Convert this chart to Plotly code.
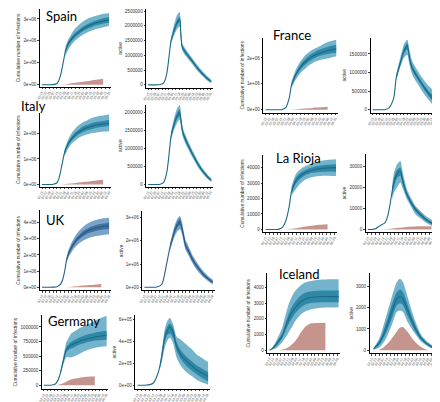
import plotly.graph_objects as go

W, H = 440, 402

# x tick labels (dates, rotated)
dates = ["02-15", "02-22", "02-29", "03-07", "03-14", "03-21", "03-28", "04-04", "04-11", "04-18",
         "04-25", "05-02", "05-09", "05-16", "05-23", "05-30", "06-06", "06-13", "06-20"]

# ---------------- Spain (millions) ----------------
spain_c_x = [0, 1, 2, 3, 4, 4.5, 5, 5.5, 6, 6.3, 7, 8, 9, 10, 11, 12, 13, 14, 15, 16, 17, 18]
spain_c_mid = [0, 0, 0, 0.01, 0.06, 0.2, 0.45, 0.85, 1.3, 1.55, 1.85, 2.1, 2.28, 2.42, 2.54, 2.64, 2.72, 2.79, 2.84, 2.88, 2.92, 2.95]
spain_c_bx = [6.3, 7, 8, 9, 10, 11, 12, 13, 14, 15, 16, 17, 18]
spain_c_olo = [1.3, 1.6, 1.85, 2.03, 2.17, 2.28, 2.37, 2.45, 2.51, 2.56, 2.60, 2.64, 2.68]
spain_c_ilo = [1.45, 1.75, 2.0, 2.18, 2.32, 2.44, 2.53, 2.61, 2.68, 2.73, 2.77, 2.80, 2.83]
spain_c_ihi = [1.63, 1.95, 2.2, 2.38, 2.52, 2.64, 2.74, 2.83, 2.90, 2.96, 3.01, 3.05, 3.09]
spain_c_ohi = [1.75, 2.05, 2.35, 2.58, 2.75, 2.88, 2.98, 3.06, 3.12, 3.17, 3.21, 3.24, 3.27]
spain_c_rx = [5, 7, 9, 11, 13, 15, 16.4]
spain_c_ry = [0, 0.04, 0.09, 0.14, 0.19, 0.24, 0.27]

spain_a_x = [0, 2, 3.5, 4.5, 5.4, 6.2, 6.6, 7.4, 8.4, 9.1, 9.4, 9.8, 10.5, 11.3, 12.75, 14.2, 15.7, 17.1, 18.2]
spain_a_mid = [0, 0, 0.01, 0.07, 0.4, 1.14, 1.5, 1.81, 2.12, 2.22, 1.8, 1.3, 1.15, 1.02, 0.8, 0.57, 0.37, 0.21, 0.11]
spain_a_bx = [6.6, 7.4, 8.4, 9.1, 9.4, 9.8, 10.5, 11.3, 12.75, 14.2, 15.7, 17.1, 18.2]
spain_a_olo = [1.4, 1.65, 1.9, 1.98, 1.55, 1.18, 1.03, 0.91, 0.7, 0.48, 0.29, 0.14, 0.06]
spain_a_ilo = [1.45, 1.75, 2.03, 2.12, 1.7, 1.25, 1.1, 0.98, 0.76, 0.53, 0.33, 0.17, 0.08]
spain_a_ihi = [1.55, 1.88, 2.22, 2.31, 1.88, 1.35, 1.2, 1.06, 0.84, 0.61, 0.41, 0.25, 0.14]
spain_a_ohi = [1.6, 2.0, 2.38, 2.47, 2.1, 1.42, 1.27, 1.13, 0.9, 0.67, 0.46, 0.29, 0.17]

# ---------------- Italy (millions) ----------------
italy_c_x = [0, 1, 2, 3, 4, 4.5, 5, 5.5, 6, 7, 8, 9, 10, 11, 12, 13, 14, 15, 16, 17, 18]
italy_c_mid = [0, 0, 0, 0.01, 0.07, 0.22, 0.52, 0.88, 1.22, 1.58, 1.8, 1.95, 2.06, 2.15, 2.21, 2.26, 2.3, 2.33, 2.35, 2.37, 2.39]
italy_c_bx = [6, 7, 8, 9, 10, 11, 12, 13, 14, 15, 16, 17, 18]
italy_c_olo = [1.1, 1.4, 1.6, 1.73, 1.83, 1.9, 1.95, 1.99, 2.02, 2.04, 2.06, 2.07, 2.08]
italy_c_ilo = [1.18, 1.51, 1.72, 1.86, 1.97, 2.05, 2.11, 2.15, 2.19, 2.22, 2.24, 2.26, 2.28]
italy_c_ihi = [1.27, 1.65, 1.88, 2.04, 2.16, 2.26, 2.32, 2.37, 2.42, 2.45, 2.47, 2.5, 2.52]
italy_c_ohi = [1.36, 1.76, 2.02, 2.2, 2.33, 2.43, 2.5, 2.57, 2.62, 2.66, 2.68, 2.71, 2.73]
italy_c_rx = [5, 7, 9, 11, 13, 15, 16.4]
italy_c_ry = [0, 0.03, 0.06, 0.1, 0.13, 0.17, 0.19]

italy_a_x = [0, 2, 3.5, 4.5, 5.4, 6.2, 6.6, 7.4, 8.4, 9.1, 9.5, 10, 10.8, 11.5, 12.8, 14.2, 15.7, 17.1, 18.2]
italy_a_mid = [0, 0, 0.01, 0.06, 0.35, 1.0, 1.35, 1.65, 1.92, 2.0, 1.75, 1.45, 1.25, 1.1, 0.85, 0.6, 0.38, 0.22, 0.12]
italy_a_bx = [6.6, 7.4, 8.4, 9.1, 9.5, 10, 10.8, 11.5, 12.8, 14.2, 15.7, 17.1, 18.2]
italy_a_olo = [1.25, 1.5, 1.72, 1.8, 1.58, 1.32, 1.13, 0.99, 0.75, 0.51, 0.31, 0.16, 0.07]
italy_a_ilo = [1.3, 1.58, 1.83, 1.9, 1.67, 1.39, 1.19, 1.05, 0.81, 0.56, 0.35, 0.19, 0.1]
italy_a_ihi = [1.4, 1.72, 2.0, 2.1, 1.83, 1.51, 1.31, 1.15, 0.89, 0.64, 0.41, 0.25, 0.14]
italy_a_ohi = [1.45, 1.82, 2.12, 2.22, 1.92, 1.58, 1.37, 1.21, 0.95, 0.69, 0.45, 0.28, 0.17]

# ---------------- UK (millions) ----------------
uk_c_x = [0, 1, 2, 3, 4, 4.5, 5, 5.5, 6, 6.55, 7, 8, 9, 10, 11, 12, 13, 14, 15, 16, 17, 18]
uk_c_mid = [0, 0, 0, 0.01, 0.03, 0.1, 0.2, 0.45, 0.9, 1.64, 2.0, 2.5, 2.85, 3.1, 3.3, 3.45, 3.55, 3.63, 3.69, 3.74, 3.77, 3.8]
uk_c_bx = [6.55, 7, 8, 9, 10, 11, 12, 13, 14, 15, 16, 17, 18]
uk_c_olo = [1.5, 1.8, 2.2, 2.5, 2.72, 2.88, 3.0, 3.08, 3.14, 3.18, 3.22, 3.25, 3.27]
uk_c_ilo = [1.58, 1.92, 2.38, 2.72, 2.96, 3.15, 3.29, 3.38, 3.45, 3.51, 3.55, 3.58, 3.6]
uk_c_ihi = [1.72, 2.1, 2.62, 2.98, 3.25, 3.45, 3.6, 3.72, 3.8, 3.87, 3.92, 3.96, 4.0]
uk_c_ohi = [1.8, 2.25, 2.8, 3.2, 3.5, 3.72, 3.9, 4.03, 4.12, 4.19, 4.24, 4.28, 4.3]
uk_c_rx = [6, 8, 10, 12, 14, 15.9]
uk_c_ry = [0, 0.04, 0.08, 0.12, 0.16, 0.2]

uk_a_x = [0, 2, 3.3, 4.6, 5.9, 6.8, 7.5, 8.1, 8.8, 9.4, 9.85, 10.6, 10.9, 11.6, 12.9, 14.2, 15.5, 16.8, 18.1]
uk_a_mid = [0, 0, 0.01, 0.12, 1.01, 1.74, 2.15, 2.46, 2.7, 2.83, 2.61, 2.03, 1.81, 1.59, 1.16, 0.84, 0.58, 0.38, 0.22]
uk_a_bx = [6.8, 7.5, 8.1, 8.8, 9.4, 9.85, 10.6, 10.9, 11.6, 12.9, 14.2, 15.5, 16.8, 18.1]
uk_a_olo = [1.6, 1.95, 2.22, 2.42, 2.5, 2.35, 1.8, 1.6, 1.4, 0.99, 0.68, 0.45, 0.27, 0.12]
uk_a_ilo = [1.67, 2.05, 2.35, 2.58, 2.68, 2.5, 1.93, 1.72, 1.5, 1.08, 0.77, 0.52, 0.33, 0.17]
uk_a_ihi = [1.8, 2.25, 2.58, 2.83, 2.97, 2.73, 2.13, 1.9, 1.68, 1.24, 0.91, 0.64, 0.43, 0.27]
uk_a_ohi = [1.88, 2.35, 2.7, 2.97, 3.07, 2.87, 2.27, 2.03, 1.8, 1.34, 1.0, 0.72, 0.5, 0.33]

# ---------------- Germany (millions) ----------------
ger_c_x = [0, 1, 2, 3, 3.6, 4.5, 5.5, 6.5, 7.2, 7.9, 9, 10, 11, 12, 12.8, 14, 15, 16, 17, 18.1]
ger_c_mid = [0, 0, 0, 0.01, 0.04, 0.15, 0.39, 0.61, 0.66, 0.69, 0.72, 0.745, 0.77, 0.785, 0.80, 0.815, 0.83, 0.84, 0.85, 0.86]
ger_c_bx = [4.8, 5.5, 6.5, 7.2, 7.9, 9, 10, 11, 12, 12.8, 14, 15, 16, 17, 18.1]
ger_c_olo = [0.18, 0.33, 0.48, 0.48, 0.475, 0.5, 0.53, 0.56, 0.59, 0.61, 0.63, 0.645, 0.655, 0.665, 0.67]
ger_c_ilo = [0.2, 0.37, 0.57, 0.61, 0.63, 0.66, 0.69, 0.71, 0.73, 0.745, 0.755, 0.765, 0.77, 0.775, 0.78]
ger_c_ihi = [0.22, 0.41, 0.65, 0.71, 0.745, 0.78, 0.81, 0.835, 0.86, 0.875, 0.89, 0.905, 0.915, 0.925, 0.935]
ger_c_ohi = [0.25, 0.46, 0.74, 0.82, 0.885, 0.93, 0.97, 1.0, 1.03, 1.05, 1.08, 1.11, 1.14, 1.165, 1.19]
ger_c_rx = [3.5, 5, 6.5, 8, 9.5, 11, 12.5, 14, 14.7]
ger_c_ry = [0, 0.02, 0.06, 0.1, 0.12, 0.135, 0.145, 0.15, 0.15]

ger_a_x = [0, 2, 3.2, 4.1, 5.4, 6.2, 7.1, 7.8, 8.4, 9.2, 10.1, 11.3, 12.6, 13.9, 15.2, 16.7, 18.2]
ger_a_mid = [0, 0, 0.005, 0.02, 0.12, 0.25, 0.44, 0.5, 0.53, 0.48, 0.35, 0.27, 0.22, 0.18, 0.14, 0.11, 0.08]
ger_a_bx = [5.8, 6.2, 7.1, 7.8, 8.4, 9.2, 10.1, 11.3, 12.6, 13.9, 15.2, 16.7, 18.2]
ger_a_olo = [0.15, 0.2, 0.35, 0.41, 0.43, 0.38, 0.25, 0.17, 0.12, 0.085, 0.05, 0.025, 0.005]
ger_a_ilo = [0.17, 0.23, 0.4, 0.46, 0.47, 0.43, 0.31, 0.23, 0.175, 0.135, 0.1, 0.065, 0.035]
ger_a_ihi = [0.19, 0.27, 0.48, 0.54, 0.56, 0.52, 0.39, 0.31, 0.26, 0.22, 0.18, 0.15, 0.12]
ger_a_ohi = [0.2, 0.3, 0.52, 0.59, 0.61, 0.55, 0.44, 0.41, 0.37, 0.33, 0.28, 0.245, 0.21]

# ---------------- France (millions) ----------------
fra_c_x = [0, 1, 2, 3, 4, 4.3, 5.2, 6.1, 6.7, 7.8, 9, 10.4, 11.7, 13, 14.3, 15.6, 17, 18.2]
fra_c_mid = [0, 0, 0, 0, 0, 0.01, 0.08, 0.46, 0.97, 1.36, 1.65, 1.87, 2.02, 2.13, 2.2, 2.26, 2.31, 2.35]
fra_c_bx = [6.7, 7.8, 9, 10.4, 11.7, 13, 14.3, 15.6, 17, 18.2]
fra_c_olo = [0.85, 1.17, 1.42, 1.61, 1.76, 1.87, 1.93, 1.97, 2.02, 2.06]
fra_c_ilo = [0.92, 1.28, 1.55, 1.76, 1.91, 2.02, 2.09, 2.14, 2.18, 2.19]
fra_c_ihi = [1.02, 1.44, 1.75, 1.98, 2.14, 2.26, 2.34, 2.41, 2.47, 2.51]
fra_c_ohi = [1.1, 1.55, 1.87, 2.13, 2.28, 2.38, 2.48, 2.58, 2.65, 2.7]
fra_c_rx = [6, 8, 10, 12, 14, 16]
fra_c_ry = [0, 0.02, 0.045, 0.07, 0.095, 0.115]

fra_a_x = [0, 2, 3.7, 4.7, 6.1, 6.8, 7.6, 8.3, 9.0, 10.0, 10.65, 11.4, 12.8, 14.3, 16.2, 18.15]
fra_a_mid = [0, 0, 0.005, 0.05, 0.32, 0.86, 1.13, 1.36, 1.57, 1.71, 1.39, 1.13, 0.9, 0.68, 0.43, 0.23]
fra_a_bx = [6.8, 7.6, 8.3, 9.0, 10.0, 10.65, 11.4, 12.8, 14.3, 16.2, 18.15]
fra_a_olo = [0.78, 1.04, 1.22, 1.39, 1.48, 1.2, 0.95, 0.72, 0.5, 0.26, 0.05]
fra_a_ilo = [0.82, 1.08, 1.3, 1.5, 1.62, 1.3, 1.06, 0.84, 0.62, 0.36, 0.14]
fra_a_ihi = [0.9, 1.18, 1.42, 1.64, 1.8, 1.47, 1.2, 0.96, 0.74, 0.5, 0.32]
fra_a_ohi = [0.95, 1.26, 1.52, 1.75, 1.88, 1.6, 1.32, 1.08, 0.86, 0.64, 0.46]

# ---------------- La Rioja (thousands) ----------------
rio_c_x = [0, 1, 2, 3, 3.5, 4.4, 5.3, 6.2, 6.8, 7.9, 9, 10.5, 12, 14, 16, 18.4]
rio_c_mid = [0, 0, 0, 0, 0.2, 1.3, 5.6, 15.3, 25, 31.4, 34.5, 36.8, 38.2, 39.3, 39.8, 40]
rio_c_bx = [6.8, 7.9, 9, 10.5, 12, 14, 16, 18.4]
rio_c_olo = [22, 26, 29.5, 32.5, 33.8, 34.6, 34.8, 34.6]
rio_c_ilo = [23.5, 29.5, 32.7, 35.2, 36.5, 37.2, 37.4, 37.4]
rio_c_ihi = [26.5, 33.5, 36.5, 38.6, 40, 41.2, 41.8, 42.2]
rio_c_ohi = [28, 35.7, 38.8, 41, 42.7, 44.3, 45, 45.4]
rio_c_rx = [5.5, 7, 9, 11, 13, 15, 16.2]
rio_c_ry = [0, 0.4, 1.2, 2.0, 2.7, 3.2, 3.4]

rio_a_x = [0, 1, 2, 2.75, 3.6, 4.5, 5.2, 5.8, 6.7, 7.6, 8.5, 9.1, 10.2, 11.3, 12.4, 13.8, 15.1, 16.6, 18.2]
rio_a_mid = [0, 0, 0.3, 1.3, 2.2, 3.3, 6.5, 12, 21.6, 26.3, 27.9, 23.2, 16.8, 12.8, 9.7, 7.0, 4.9, 3.1, 1.7]
rio_a_bx = [6.3, 6.7, 7.6, 8.5, 9.1, 10.2, 11.3, 12.4, 13.8, 15.1, 16.6, 18.2]
rio_a_olo = [14.5, 17, 20, 22.4, 19.5, 14.4, 10.8, 7.3, 5.2, 3.3, 1.8, 0.6]
rio_a_ilo = [16.5, 19.5, 24.5, 25.6, 21.5, 15.8, 11.9, 8.7, 6.2, 4.2, 2.5, 1.2]
rio_a_ihi = [18.5, 23.5, 28.5, 29.5, 25, 17.8, 13.8, 10.6, 7.8, 5.6, 3.7, 2.3]
rio_a_ohi = [20, 26, 31, 32.7, 27.5, 19.2, 15, 11.3, 8.7, 6.5, 4.6, 2.9]
rio_a_rx = [4, 6, 8, 10, 12, 14, 16, 16.6]
rio_a_ry = [0, 0.3, 0.8, 1.2, 1.4, 1.5, 1.5, 1.5]

# ---------------- Iceland (thousands) ----------------
ice_c_x = [0, 0.3, 1.6, 2.5, 3.4, 4.2, 5.1, 6, 6.9, 7.8, 8.65, 10, 11.3, 13, 15, 17, 18.3]
ice_c_mid = [0, 0.02, 0.3, 0.6, 0.93, 1.45, 1.99, 2.42, 2.73, 2.98, 3.15, 3.3, 3.37, 3.4, 3.41, 3.41, 3.41]
ice_c_bx = [0.5, 1.6, 2.5, 3.4, 4.2, 5.1, 6, 6.9, 7.8, 8.65, 10, 11.3, 13, 15, 17, 18.3]
ice_c_olo = [0.02, 0.1, 0.28, 0.51, 0.8, 1.14, 1.5, 1.88, 2.15, 2.35, 2.52, 2.62, 2.68, 2.71, 2.72, 2.73]
ice_c_ilo = [0.03, 0.22, 0.48, 0.78, 1.22, 1.68, 2.05, 2.37, 2.6, 2.78, 2.95, 3.02, 3.04, 3.05, 3.05, 3.05]
ice_c_ihi = [0.05, 0.4, 0.75, 1.1, 1.7, 2.33, 2.8, 3.12, 3.37, 3.55, 3.7, 3.75, 3.78, 3.79, 3.79, 3.79]
ice_c_ohi = [0.08, 0.51, 0.95, 1.46, 2.2, 2.94, 3.45, 3.79, 4.02, 4.2, 4.35, 4.42, 4.48, 4.5, 4.51, 4.51]
ice_c_rx = [2.5, 4, 5.1, 6, 6.9, 7.6, 8.2, 9, 9.5, 10.2, 10.85, 12.5, 14.8]
ice_c_ry = [0, 0.07, 0.2, 0.38, 0.6, 0.85, 1.1, 1.35, 1.5, 1.62, 1.7, 1.73, 1.75]

ice_a_x = [0.5, 2.15, 3.8, 5.5, 6.7, 7.6, 8.4, 9.65, 11.3, 13.4, 15.9, 18.4]
ice_a_mid = [0.06, 0.38, 1.0, 1.86, 2.41, 2.52, 2.41, 1.86, 1.16, 0.53, 0.17, 0.05]
ice_a_bx = [0.5, 2.15, 3.8, 5.5, 6.7, 7.6, 8.4, 9.65, 11.3, 13.4, 15.9, 18.4]
ice_a_olo = [0.02, 0.14, 0.54, 1.24, 1.79, 1.86, 1.79, 1.31, 0.85, 0.38, 0.1, 0.02]
ice_a_ilo = [0.04, 0.28, 0.8, 1.55, 2.1, 2.2, 2.1, 1.6, 1.0, 0.46, 0.13, 0.03]
ice_a_ihi = [0.08, 0.48, 1.25, 2.2, 2.72, 2.85, 2.72, 2.15, 1.35, 0.6, 0.22, 0.07]
ice_a_ohi = [0.1, 0.61, 1.55, 2.57, 3.19, 3.35, 3.19, 2.49, 1.55, 0.69, 0.27, 0.09]
ice_a_rx = [1.7, 2.9, 4.6, 6.3, 7.5, 8.4, 9.65, 11.3, 13, 14.6, 15.3]
ice_a_ry = [0, 0.1, 0.37, 0.77, 1.05, 1.08, 0.85, 0.45, 0.17, 0.03, 0]

# ---------------- styling ----------------
TEAL = dict(outer="rgba(108,176,201,0.95)", inner="rgba(40,132,162,0.9)", line="#1c6a86")
BLUE = dict(outer="rgba(114,158,198,0.95)", inner="rgba(58,108,154,0.9)", line="#2a5c88")
RED = "rgba(183,122,112,0.8)"

# panels: (left, right, top, bottom) px boxes, y range, tick values, tick texts, y title
panels = [
    ("spain_c", (29, 101, 1, 79), (-0.091, 3.45), [0, 1, 2, 3], ["0e+00", "1e+06", "2e+06", "3e+06"], "Cumulative number of infections", TEAL),
    ("spain_a", (136, 203, 1, 80), (-0.1, 2.57), [0, 0.5, 1, 1.5, 2, 2.5], ["0", "500000", "1000000", "1500000", "2000000", "2500000"], "active", TEAL),
    ("italy_c", (29, 101, 105, 179), (-0.078, 2.8), [0, 1, 2], ["0e+00", "1e+06", "2e+06"], "Cumulative number of infections", TEAL),
    ("italy_a", (136, 203, 97, 179), (-0.056, 2.22), [0, 0.5, 1, 1.5, 2], ["0", "500000", "1000000", "1500000", "2000000"], "active", TEAL),
    ("uk_c", (29, 101, 203, 283), (-0.185, 4.74), [0, 1, 2, 3, 4], ["0e+00", "1e+06", "2e+06", "3e+06", "4e+06"], "Cumulative number of infections", BLUE),
    ("uk_a", (132, 205, 204, 283), (-0.13, 3.26), [0, 1, 2, 3], ["0e+00", "1e+06", "2e+06", "3e+06"], "active", BLUE),
    ("ger_c", (31, 98, 308, 382), (-0.066, 1.2), [0, 0.25, 0.5, 0.75, 1.0], ["0", "250000", "500000", "750000", "1000000"], "Cumulative number of infections", TEAL),
    ("ger_a", (125, 200, 308, 382), (-0.035, 0.635), [0, 0.2, 0.4, 0.6], ["0e+00", "2e+05", "4e+05", "6e+05"], "active", TEAL),
    ("fra_c", (254, 329, 30, 105), (-0.115, 2.77), [0, 1, 2], ["0e+00", "1e+06", "2e+06"], "Cumulative number of infections", TEAL),
    ("fra_a", (362, 429, 30, 105), (-0.08, 1.93), [0, 0.5, 1, 1.5], ["0", "500000", "1000000", "1500000"], "active", TEAL),
    ("rio_c", (254, 328, 147, 225), (-1.94, 48.4), [0, 10, 20, 30, 40], ["0", "10000", "20000", "30000", "40000"], "Cumulative number of infections", TEAL),
    ("rio_a", (357, 431, 146, 225), (-1.43, 36.2), [0, 10, 20, 30], ["0", "10000", "20000", "30000"], "active", TEAL),
    ("ice_c", (258, 331, 266, 346), (-0.19, 4.89), [0, 1, 2, 3, 4], ["0", "1000", "2000", "3000", "4000"], "Cumulative number of infections", TEAL),
    ("ice_a", (361, 433, 266, 346), (-0.14, 3.61), [0, 1, 2, 3], ["0", "1000", "2000", "3000"], "active", TEAL),
]

G = globals()
fig = go.Figure()
SM = 0.7

for i, (key, box, yr, tv, tt, ytitle, pal) in enumerate(panels, start=1):
    xa = "x" if i == 1 else f"x{i}"
    ya = "y" if i == 1 else f"y{i}"
    common = dict(xaxis=xa, yaxis=ya, showlegend=False, hoverinfo="skip")
    if key + "_rx" in G:
        fig.add_trace(go.Scatter(x=G[key + "_rx"], y=G[key + "_ry"], mode="lines", fill="tozeroy",
                                 fillcolor=RED, line=dict(width=0, shape="spline", smoothing=SM), **common))
    bx = G[key + "_bx"]
    fig.add_trace(go.Scatter(x=bx, y=G[key + "_olo"], mode="lines",
                             line=dict(width=0, color=pal["outer"], shape="spline", smoothing=SM), **common))
    fig.add_trace(go.Scatter(x=bx, y=G[key + "_ohi"], mode="lines", fill="tonexty", fillcolor=pal["outer"],
                             line=dict(width=0, color=pal["outer"], shape="spline", smoothing=SM), **common))
    fig.add_trace(go.Scatter(x=bx, y=G[key + "_ilo"], mode="lines",
                             line=dict(width=0, color=pal["inner"], shape="spline", smoothing=SM), **common))
    fig.add_trace(go.Scatter(x=bx, y=G[key + "_ihi"], mode="lines", fill="tonexty", fillcolor=pal["inner"],
                             line=dict(width=0, color=pal["inner"], shape="spline", smoothing=SM), **common))
    fig.add_trace(go.Scatter(x=G[key + "_x"], y=G[key + "_mid"], mode="lines",
                             line=dict(width=1.1, color=pal["line"], shape="spline", smoothing=SM), **common))

    L, R, T, B = box
    fig.layout[("xaxis" if i == 1 else f"xaxis{i}")] = dict(
        domain=[L / W, R / W], anchor=ya, range=[-0.6, 18.6],
        tickvals=list(range(len(dates))), ticktext=dates, tickangle=-60,
        tickfont=dict(size=3.3, color="#444", family="Liberation Sans"),
        showline=True, linecolor="black", linewidth=0.9, ticks="outside", ticklen=1.5, tickwidth=0.5,
        showgrid=False, zeroline=False, fixedrange=True)
    fig.layout[("yaxis" if i == 1 else f"yaxis{i}")] = dict(
        domain=[1 - B / H, 1 - T / H], anchor=xa, range=list(yr),
        tickvals=tv, ticktext=tt, tickfont=dict(size=4.6, color="#333", family="Liberation Sans"),
        title=dict(text=ytitle, font=dict(size=4.8, color="#333", family="Liberation Sans"), standoff=2),
        showline=True, linecolor="black", linewidth=0.9, ticks="outside", ticklen=1.5, tickwidth=0.5,
        showgrid=False, zeroline=False, fixedrange=True)

titles = [("Spain", 33, 8), ("Italy", 8, 98), ("UK", 33, 213), ("Germany", 35, 314),
          ("France", 262, 27), ("La Rioja", 265, 150), ("Iceland", 268, 267)]
for txt, px, py in titles:
    fig.add_annotation(text=txt, x=px / W, y=1 - py / H, xref="paper", yref="paper",
                       xanchor="left", yanchor="middle", showarrow=False,
                       font=dict(size=13, color="black", family="Lato"))

fig.update_layout(width=W, height=H, margin=dict(l=0, r=0, t=0, b=0),
                  paper_bgcolor="white", plot_bgcolor="white")
fig.write_html("out.html")
